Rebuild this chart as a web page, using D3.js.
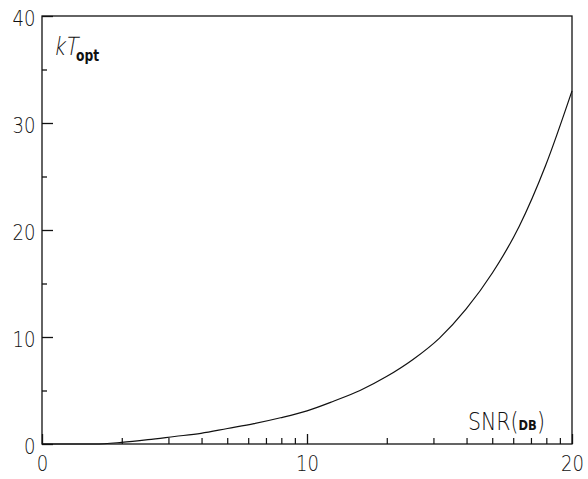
<!DOCTYPE html>
<html>
<head>
<meta charset="utf-8">
<script src="https://cdn.jsdelivr.net/npm/d3@7"></script>
<style>
  body { margin: 0; background: #fff; }
  svg { display: block; }
  text { font-family: "DejaVu Sans", sans-serif; font-weight: 200; fill: #111; }
</style>
</head>
<body>
<svg width="588" height="479"></svg>
<script>
const svg = d3.select("svg");

// values
const snr = [0, 1, 2, 3, 4, 5, 6, 7, 8, 9, 10, 11, 12, 13, 14, 15, 16, 17, 18, 19, 20];
const kTopt = [0, 0, 0, 0.15, 0.4, 0.7, 1.0, 1.45, 1.9, 2.45, 3.1, 4.0, 5.0, 6.3, 7.9, 9.9, 12.6, 16.0, 20.3, 26.0, 33.0];

const xMajor = [0, 10, 20];
const xDecades = [0, 10];
const xMinorFactors = [2, 3, 4, 5, 6, 7, 8, 9];
const yMajor = [0, 10, 20, 30, 40];
const yMinor = [5, 15, 25, 35];

const margin = {left: 42, top: 16, right: 16, bottom: 35};
const width = 588 - margin.left - margin.right;
const height = 479 - margin.top - margin.bottom;

const x = d3.scaleLinear().domain([0, 20]).range([0, width]);
const y = d3.scaleLinear().domain([0, 40]).range([height, 0]);

const g = svg.append("g")
  .attr("transform", `translate(${margin.left},${margin.top})`);

// frame
g.append("rect")
  .attr("width", width)
  .attr("height", height)
  .attr("fill", "none")
  .attr("stroke", "#111")
  .attr("stroke-width", 1.3);

// y axis, ticks point inward
const yAxis = g.append("g")
  .call(d3.axisLeft(y).tickValues(yMajor).tickSizeInner(-11).tickSizeOuter(0).tickPadding(8));
yAxis.select(".domain").remove();
yAxis.selectAll("line").attr("stroke", "#111").attr("stroke-width", 1.3);
yAxis.selectAll("text")
  .attr("font-size", 22)
  .attr("dy", "0.45em")
  .attr("transform", "scale(0.82,1)")
  .style("font-family", "DejaVu Sans").style("font-weight", 200);

const yMinorAxis = g.append("g")
  .call(d3.axisLeft(y).tickValues(yMinor).tickSizeInner(-5).tickSizeOuter(0).tickFormat(""));
yMinorAxis.select(".domain").remove();
yMinorAxis.selectAll("line").attr("stroke", "#111").attr("stroke-width", 1.3);

// x axis
const xAxis = g.append("g")
  .attr("transform", `translate(0,${height})`)
  .call(d3.axisBottom(x).tickValues(xMajor).tickSizeInner(-10).tickSizeOuter(0).tickPadding(11));
xAxis.select(".domain").remove();
xAxis.selectAll("line").attr("stroke", "#111").attr("stroke-width", 1.3);
xAxis.selectAll("text")
  .attr("font-size", 22)
  .attr("transform", "scale(0.82,1)")
  .style("font-family", "DejaVu Sans").style("font-weight", 200);

// logarithmic-looking minor ticks inside each half
const xMinorValues = xDecades.flatMap(d => xMinorFactors.map(m => d + 10 * Math.log10(m)));
const xMinorAxis = g.append("g")
  .attr("transform", `translate(0,${height})`)
  .call(d3.axisBottom(x).tickValues(xMinorValues).tickSizeInner(-6).tickSizeOuter(0).tickFormat(""));
xMinorAxis.select(".domain").remove();
xMinorAxis.selectAll("line").attr("stroke", "#111").attr("stroke-width", 1.2);

// curve
const line = d3.line()
  .x((d, i) => x(snr[i]))
  .y(d => y(d))
  .curve(d3.curveMonotoneX);

g.append("path")
  .datum(kTopt)
  .attr("fill", "none")
  .attr("stroke", "#111")
  .attr("stroke-width", 1.2)
  .attr("d", line);

// axis titles: thin slanted kT, upright bold subscript
svg.append("text")
  .attr("transform", "translate(53,55) scale(0.82,1) skewX(-12)")
  .attr("font-size", 25)
  .text("kT");
svg.append("text")
  .attr("transform", "translate(76,61) scale(0.82,1)")
  .attr("font-size", 15)
  .style("font-weight", 700)
  .text("opt");

const xTitle = svg.append("text")
  .attr("transform", "translate(468,430) scale(0.82,1)")
  .attr("font-size", 25);
xTitle.append("tspan").text("SNR(");
xTitle.append("tspan")
  .attr("font-size", 14)
  .style("font-weight", 700)
  .text("DB");
xTitle.append("tspan").text(")");
</script>
</body>
</html>
